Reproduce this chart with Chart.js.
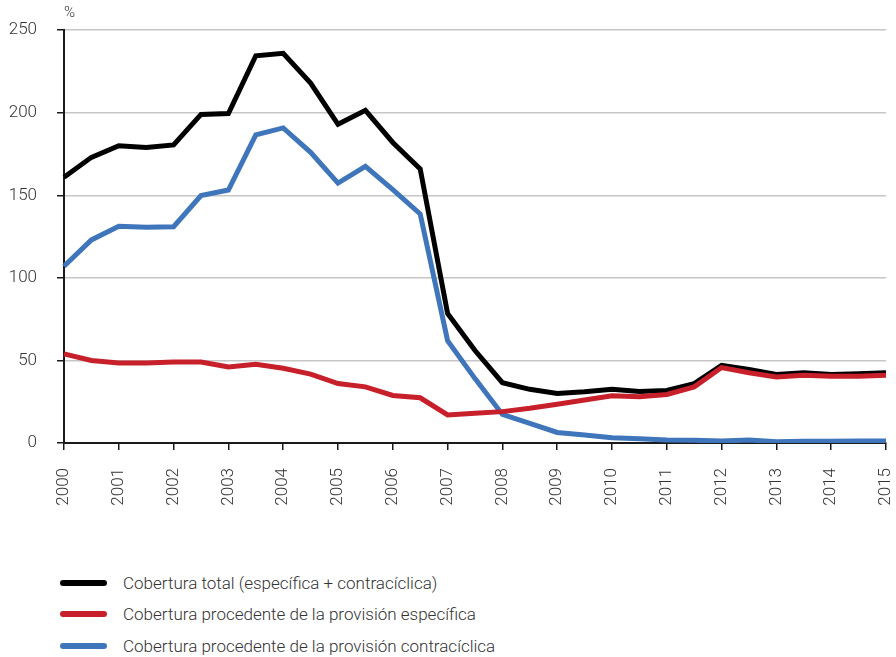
<!DOCTYPE html>
<html lang="es">
<head>
<meta charset="utf-8">
<title>Cobertura de la morosidad</title>
<script src="https://cdn.jsdelivr.net/npm/chart.js@4"></script>
<style>
  body { margin: 0; background: #fff; font-family: Roboto, "Liberation Sans", sans-serif; font-weight: 300; color: #333; }
  #contenedor { position: relative; width: 896px; height: 657px; }
  #zonaGrafico { position: absolute; left: 0; top: 0; width: 896px; height: 530px; }
  #leyenda { position: absolute; left: 60px; top: 567px; margin: 0; padding: 0; list-style: none; }
  #leyenda li { display: flex; align-items: center; height: 31.5px; font-size: 17px; }
  #leyenda .muestra { display: inline-block; width: 47px; height: 6px; border-radius: 3px; margin-right: 16px; }
</style>
</head>
<body>
<div id="contenedor">
  <div id="zonaGrafico"><canvas id="grafico"></canvas></div>
  <ul id="leyenda"></ul>
</div>
<script>
// semestres: etiqueta solo en diciembre de cada año
const semestres = [
  "2000", "", "2001", "", "2002", "", "2003", "", "2004", "", "2005", "",
  "2006", "", "2007", "", "2008", "", "2009", "", "2010", "", "2011", "",
  "2012", "", "2013", "", "2014", "", "2015"
];

const coberturaTotal = [
  161, 173, 180, 179, 180.5, 199, 199.5, 234.5, 236, 218, 193, 201.5,
  182, 166, 78.5, 56, 36.5, 32.5, 30, 31, 32.5, 31.2, 31.8, 36,
  47, 44.5, 41.5, 42.5, 41.5, 42, 42.5
];

const provisionEspecifica = [
  54, 50, 48.5, 48.5, 49, 49, 46, 47.7, 45.3, 41.7, 36, 34,
  28.8, 27.4, 17, 18, 19, 21, 23.5, 26, 28.6, 28, 29.4, 34,
  45.7, 42.5, 40, 41, 40.5, 40.5, 41
];

const provisionContraciclica = [
  107, 123, 131.2, 130.6, 131, 149.8, 153.2, 186.6, 190.8, 176, 157.4, 167.5,
  153.4, 138.7, 62, 39, 17.3, 11.9, 6.4, 4.8, 3.2, 2.6, 1.8, 1.6,
  1.2, 1.8, 0.8, 1, 1, 1.2, 1.2
];

const ticksY = [0, 50, 100, 150, 200, 250];

const fuente = { family: "Roboto, 'Liberation Sans', sans-serif", size: 17, weight: 300 };
const colorTexto = "#333";

// el "%" encima del eje vertical
const unidad = {
  id: "unidad",
  afterDraw(chart) {
    const ctx = chart.ctx;
    ctx.save();
    ctx.font = "300 15px Roboto, 'Liberation Sans', sans-serif";
    ctx.fillStyle = colorTexto;
    ctx.textAlign = "left";
    ctx.textBaseline = "middle";
    ctx.fillText("%", chart.chartArea.left, 13);
    ctx.restore();
  }
};

const grafico = new Chart(document.getElementById("grafico"), {
  type: "line",
  data: {
    labels: semestres,
    datasets: [
      {
        label: "Cobertura total (específica + contracíclica)",
        data: coberturaTotal,
        borderColor: "#000000",
        order: 1
      },
      {
        label: "Cobertura procedente de la provisión específica",
        data: provisionEspecifica,
        borderColor: "#c8202b",
        order: 0
      },
      {
        label: "Cobertura procedente de la provisión contracíclica",
        data: provisionContraciclica,
        borderColor: "#3f75bb",
        order: 2
      }
    ]
  },
  options: {
    responsive: true,
    maintainAspectRatio: false,
    animation: false,
    layout: { padding: { top: 29, right: 10, left: 0, bottom: 0 } },
    elements: {
      line: { borderWidth: 5, tension: 0, fill: false },
      point: { radius: 0, hoverRadius: 0 }
    },
    plugins: {
      legend: { display: false },
      tooltip: { enabled: false }
    },
    scales: {
      x: {
        offset: false,
        border: { color: "#1a1a1a", width: 2 },
        grid: {
          drawOnChartArea: false,
          drawTicks: true,
          tickLength: 7,
          tickColor: (c) => (c.index % 2 === 0 ? "#1a1a1a" : "rgba(0,0,0,0)"),
          lineWidth: 1.5
        },
        ticks: {
          autoSkip: false,
          maxRotation: 90,
          minRotation: 90,
          padding: 18,
          color: colorTexto,
          font: fuente
        },
        afterFit(scale) {
          scale.height = 87;
          scale.paddingLeft = 0;
          scale.paddingRight = 0;
        }
      },
      y: {
        min: 0,
        max: 250,
        border: { color: "#1a1a1a", width: 2 },
        grid: {
          color: "#c6c6c6",
          lineWidth: 1.5,
          drawTicks: true,
          tickLength: 7,
          tickColor: "#1a1a1a"
        },
        afterBuildTicks(scale) { scale.ticks = ticksY.map(v => ({ value: v })); },
        ticks: {
          padding: 20,
          color: colorTexto,
          font: fuente
        },
        afterFit(scale) { scale.width = 64; }
      }
    }
  },
  plugins: [unidad]
});

// leyenda en columna, debajo del gráfico
const leyenda = document.getElementById("leyenda");
grafico.data.datasets.forEach(ds => {
  const li = document.createElement("li");
  const muestra = document.createElement("span");
  muestra.className = "muestra";
  muestra.style.background = ds.borderColor;
  li.appendChild(muestra);
  li.appendChild(document.createTextNode(ds.label));
  leyenda.appendChild(li);
});
</script>
</body>
</html>
